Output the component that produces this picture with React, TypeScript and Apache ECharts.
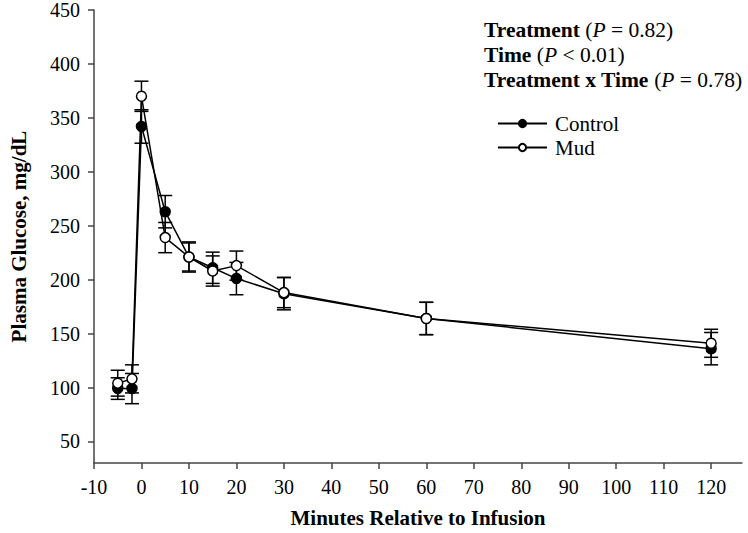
import React, { useEffect, useRef } from "react";
import * as echarts from "echarts";

const timePoints = [-5, -2, 0, 5, 10, 15, 20, 30, 60, 120];
const controlMean = [99, 99, 342, 263, 221, 211, 201, 187, 164, 136];
const controlSE = [10, 14, 15.5, 15, 14, 14.5, 15, 15, 15, 15];
const mudMean = [104, 108, 370, 239, 221, 208, 213, 188, 164, 141];
const mudSE = [12, 13, 14, 14, 13, 14, 13.5, 14, 15, 13];
const xTicks = [-10, 0, 10, 20, 30, 40, 50, 60, 70, 80, 90, 100, 110, 120];
const yTicks = [50, 100, 150, 200, 250, 300, 350, 400, 450];
const statLines = [
  { term: "Treatment", op: "=", p: "0.82" },
  { term: "Time", op: "<", p: "0.01" },
  { term: "Treatment x Time", op: "=", p: "0.78" },
];

const FONT = "Liberation Serif";

function errorBars(mean: number[], se: number[]) {
  return timePoints.map((t, i) => [t, mean[i] - se[i], mean[i] + se[i]]);
}

function renderErrorBar(params: any, api: any) {
  const x = api.value(0);
  const lo = api.value(1);
  const hi = api.value(2);
  const pHi = api.coord([x, hi]);
  const pLo = api.coord([x, lo]);
  const w = 7;
  const style = { stroke: "#000", lineWidth: 1.5 };
  return {
    type: "group",
    children: [
      { type: "line", shape: { x1: pHi[0], y1: pHi[1], x2: pLo[0], y2: pLo[1] }, style },
      { type: "line", shape: { x1: pHi[0] - w, y1: pHi[1], x2: pHi[0] + w, y2: pHi[1] }, style },
      { type: "line", shape: { x1: pLo[0] - w, y1: pLo[1], x2: pLo[0] + w, y2: pLo[1] }, style },
    ],
  };
}

export default function App() {
  const ref = useRef<HTMLDivElement>(null);
  useEffect(() => {
    if (!ref.current) return;
    const chart = echarts.init(ref.current, null, { renderer: "svg" });
    const axisLineStyle = { color: "#444", width: 1.5 };
    const option: any = {
      animation: false,
      backgroundColor: "#fff",
      textStyle: { fontFamily: FONT, color: "#000" },
      grid: { left: 90, right: 6, top: 10, bottom: 66, containLabel: false },
      xAxis: {
        type: "value",
        min: -10,
        max: 126.5,
        name: "Minutes Relative to Infusion",
        nameLocation: "middle",
        nameGap: 44,
        nameTextStyle: { fontFamily: FONT, fontSize: 21, fontWeight: "bold", color: "#000" },
        splitLine: { show: false },
        axisLine: { show: true, onZero: false, lineStyle: axisLineStyle },
        axisTick: { show: true, length: 6, lineStyle: axisLineStyle, customValues: xTicks },
        axisLabel: { fontFamily: FONT, fontSize: 20, color: "#000", margin: 14, customValues: xTicks },
      },
      yAxis: {
        type: "value",
        min: 30,
        max: 450,
        name: "Plasma Glucose, mg/dL",
        nameLocation: "middle",
        nameGap: 65,
        nameTextStyle: { fontFamily: FONT, fontSize: 21, fontWeight: "bold", color: "#000" },
        splitLine: { show: false },
        axisLine: { show: true, onZero: false, lineStyle: axisLineStyle },
        axisTick: { show: true, length: 6, lineStyle: axisLineStyle, customValues: yTicks },
        axisLabel: { fontFamily: FONT, fontSize: 20, color: "#000", margin: 14, customValues: yTicks },
      },
      legend: {
        data: ["Control", "Mud"],
        orient: "vertical",
        left: 492,
        top: 108,
        itemWidth: 49,
        itemHeight: 9,
        itemGap: 3,
        textStyle: {
          fontFamily: FONT,
          fontSize: 21,
          color: "#000",
          rich: {
            s: { fontFamily: FONT, fontSize: 21, color: "#000", padding: [0, 0, 0, 3] },
          },
        },
        formatter: (name: string) => `{s|${name}}`,
      },
      graphic: statLines.map((s, i) => ({
        type: "text",
        left: 484,
        top: 19 + i * 25,
        style: {
          text: `{b|${s.term}} ({i|P} ${s.op} ${s.p})`,
          fontFamily: FONT,
          fontSize: 21.5,
          fill: "#000",
          rich: {
            b: { fontFamily: FONT, fontSize: 21.5, fontWeight: "bold", fill: "#000" },
            i: { fontFamily: FONT, fontSize: 21.5, fontStyle: "italic", fill: "#000" },
          },
        },
      })),
      series: [
        {
          name: "Control SE",
          type: "custom",
          z: 1,
          renderItem: renderErrorBar,
          encode: { x: 0, y: [1, 2] },
          data: errorBars(controlMean, controlSE),
        },
        {
          name: "Mud SE",
          type: "custom",
          z: 1,
          renderItem: renderErrorBar,
          encode: { x: 0, y: [1, 2] },
          data: errorBars(mudMean, mudSE),
        },
        {
          name: "Control",
          type: "line",
          z: 3,
          data: timePoints.map((t, i) => [t, controlMean[i]]),
          symbol: "circle",
          symbolSize: 10,
          lineStyle: { color: "#000", width: 1.5 },
          itemStyle: { color: "#000", borderColor: "#000", borderWidth: 1.5 },
        },
        {
          name: "Mud",
          type: "line",
          z: 4,
          data: timePoints.map((t, i) => [t, mudMean[i]]),
          symbol: "circle",
          symbolSize: 10,
          lineStyle: { color: "#000", width: 1.5 },
          itemStyle: { color: "#fff", borderColor: "#000", borderWidth: 1.5 },
        },
      ],
    };
    chart.setOption(option);
    return () => chart.dispose();
  }, []);
  return (
    <div
      ref={ref}
      style={{ position: "fixed", left: 0, top: 0, width: 748, height: 533, background: "#fff" }}
    />
  );
}
